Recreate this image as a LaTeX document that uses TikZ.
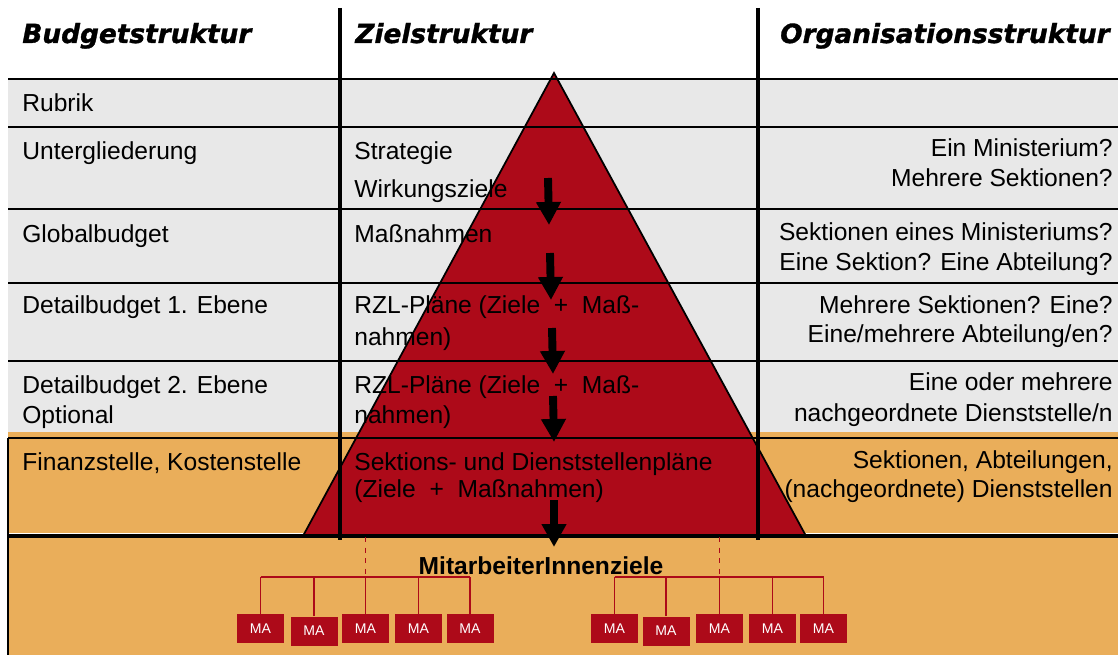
\documentclass[tikz,border=0pt]{standalone}
\usepackage{fontspec}
\setmainfont{Liberation Sans}
\newfontfamily\headfont{DejaVu Sans}[BoldItalicFeatures={FakeBold=1.2}]
\usetikzlibrary{arrows.meta}
\definecolor{PYRED}{HTML}{AD0A19}
\definecolor{ROWGRAY}{HTML}{E8E8E8}
\definecolor{ROWORANGE}{HTML}{EAAE5A}

\begin{document}
\begin{tikzpicture}[x=0.02cm,y=-0.02cm]
\tikzset{head/.style={anchor=base west,inner sep=0pt,font=\headfont\bfseries\itshape\fontsize{15}{18}\selectfont},
 lt/.style={anchor=base west,inner sep=0pt,font=\fontsize{14}{17}\selectfont},
 rt/.style={anchor=base east,inner sep=0pt,font=\fontsize{14}{17}\selectfont},
 rowl/.style={line width=1.1pt,black},coll/.style={line width=2pt,black},
 flow/.style={-{Triangle[width=0.47cm,length=0.46cm]},line width=4.5pt,black},
 ma/.style={fill=PYRED,text=white,minimum width=0.94cm,minimum height=0.58cm,inner sep=0pt,font=\fontsize{8}{9}\selectfont},
 tree/.style={PYRED,line width=0.9pt}}
\useasboundingbox (0,0) rectangle (1118,655);
% row bands
\fill[ROWGRAY] (8,79) rectangle (1118,432);
\fill[ROWORANGE] (8,432) rectangle (1118,655);
\draw[white,line width=0.8pt] (8,533.5) -- (1118,533.5);
% pyramid
\draw[fill=PYRED,line width=1pt] (554,73) -- (806,536) -- (303,536) -- cycle;
% table lines
\foreach \y in {79,127,209,283,361,438} \draw[rowl] (8,\y) -- (1118,\y);
\draw[rowl,line width=1.8pt] (8,536) -- (1118,536);
\draw[rowl] (8,438) -- (8,655);
\draw[coll] (340,8) -- (340,540);
\draw[coll] (758,8) -- (758,540);
% column heads
\node[head] (hb) at (22,43) {Budgetstruktur};
\node[head] (hz) at (355,43) {Zielstruktur};
\node[head,anchor=base east] (ho) at (1110,43) {Organisationsstruktur};
% budget levels
\foreach \n/\y/\t in {1/112/Rubrik,2/160/Untergliederung,3/242/Globalbudget,4/313/Detailbudget 1. Ebene,
 5/393/Detailbudget 2. Ebene,6/423/Optional,7/470/{Finanzstelle, Kostenstelle}}
 \node[lt] (b\n) at (22,\y) {\t};
% goals
\foreach \n/\y/\t in {1/160/Strategie,2/197/Wirkungsziele,3/242/Maßnahmen,4/313/{RZL-Pläne (Ziele~ + ~Maß-},
 5/345/nahmen),6/393/{RZL-Pläne (Ziele~ + ~Maß-},7/423/nahmen),8/470/Sektions- und Dienststellenpläne,
 9/497/{(Ziele~ + ~Maßnahmen)}}
 \node[lt] (z\n) at (354,\y) {\t};
% organisation
\foreach \n/\y/\t in {1/157/Ein Ministerium?,2/187/Mehrere Sektionen?,3/240/Sektionen eines Ministeriums?,
 4/270/Eine Sektion? Eine Abteilung?,5/313/Mehrere Sektionen? Eine?,6/342/{Eine/mehrere Abteilung/en?},
 7/390/Eine oder mehrere,8/421/{nachgeordnete Dienststelle/n},9/468/{Sektionen, Abteilungen,},
 10/497/{(nachgeordnete) Dienststellen}}
 \node[rt] (o\n) at (1113,\y) {\t};
% cascade arrows
\foreach \i/\xa/\ya/\xb/\yb in {1/548/178/549/225,2/550/253/551/300,3/552/328/553/374,4/553/396/554/442,5/554/500/554/547}{
 \coordinate (fa\i) at (\xa,\ya); \coordinate (fb\i) at (\xb,\yb);
 \draw[flow] (fa\i) -- (fb\i);}
% staff goals
\node[anchor=base,inner sep=0pt,font=\bfseries\fontsize{14}{17}\selectfont] (mz) at (541,574) {MitarbeiterInnenziele};
\foreach \i/\x/\y in {1/260.5/628.5,2/314/631,3/365.5/628.5,4/418.5/628.5,5/470/628.5,
 6/614.5/628.5,7/666/631,8/719.5/628.5,9/772.5/628.5,10/823.5/628.5}
 \node[ma] (m\i) at (\x,\y) {MA};
\coordinate (bar) at (0,577);
\coordinate (base) at (0,537);
\foreach \i in {1,...,10} \draw[tree] (m\i.north) -- (m\i.north |- bar);
\draw[tree,line width=1.6pt] (m1.north |- bar) -- (m5.north |- bar);
\draw[tree,line width=1.6pt] (m6.north |- bar) -- (m10.north |- bar);
\draw[tree,dashed,line width=0.6pt] (m3.north |- base) -- (m3.north |- bar);
\draw[tree,dashed,line width=0.6pt] (m8.north |- base) -- (m8.north |- bar);
\end{tikzpicture}
\end{document}
